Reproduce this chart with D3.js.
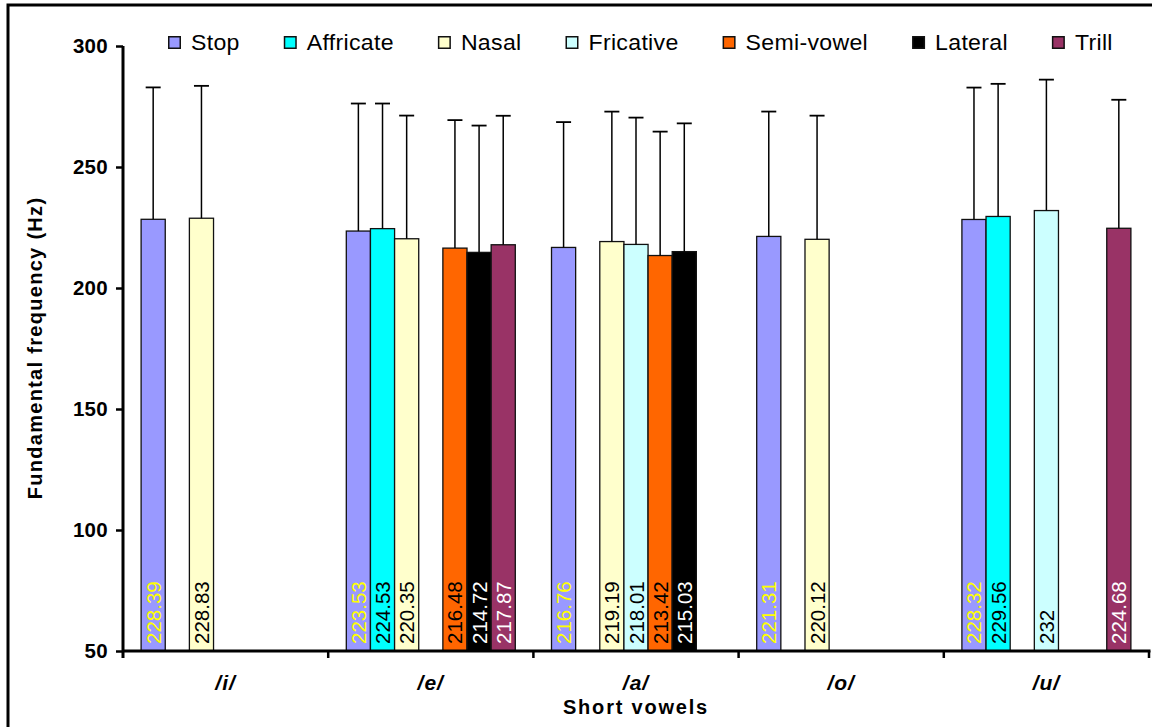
<!DOCTYPE html>
<html>
<head>
<meta charset="utf-8">
<script src="https://cdn.jsdelivr.net/npm/d3@7"></script>
<style>
  html, body { margin: 0; padding: 0; background: #fff; }
  svg { display: block; font-family: "Liberation Sans", Arial, sans-serif; }
</style>
</head>
<body>
<svg id="chart" width="1152" height="727"></svg>
<script>
// Mean fundamental frequency (Hz) of short vowels by consonant context, with upper SD bars
const vowels = ["/i/", "/e/", "/a/", "/o/", "/u/"];
const series = ["Stop", "Affricate", "Nasal", "Fricative", "Semi-vowel", "Lateral", "Trill"];

const stopMean      = [228.39, 223.53, 216.76, 221.31, 228.32];
const affricateMean = [null, 224.53, null, null, 229.56];
const nasalMean     = [228.83, 220.35, 219.19, 220.12, null];
const fricativeMean = [null, null, 218.01, null, 232];
const semivowelMean = [null, 216.48, 213.42, null, null];
const lateralMean   = [null, 214.72, 215.03, null, null];
const trillMean     = [null, 217.87, null, null, 224.68];

const stopSD      = [54.5, 52.7, 51.8, 51.6, 54.5];
const affricateSD = [null, 51.7, null, null, 54.8];
const nasalSD     = [54.7, 50.9, 53.7, 51.1, null];
const fricativeSD = [null, null, 52.4, null, 54.1];
const semivowelSD = [null, 52.9, 51.2, null, null];
const lateralSD   = [null, 52.4, 53.0, null, null];
const trillSD     = [null, 53.3, null, null, 53.1];

const yTicks = [50, 100, 150, 200, 250, 300];

const fills = ["#9999FF", "#00FFFF", "#FFFFCC", "#CCFFFF", "#FF6600", "#000000", "#993366"];
const labelColors = ["#FFFF00", "#000000", "#000000", "#000000", "#000000", "#FFFFFF", "#FFFFFF"];

const means = [stopMean, affricateMean, nasalMean, fricativeMean, semivowelMean, lateralMean, trillMean];
const sds = [stopSD, affricateSD, nasalSD, fricativeSD, semivowelSD, lateralSD, trillSD];

const rows = [];
series.forEach((s, si) => {
  vowels.forEach((v, vi) => {
    if (means[si][vi] != null) {
      rows.push({ series: s, si, vowel: v, mean: means[si][vi], sd: sds[si][vi] });
    }
  });
});

const svg = d3.select("#chart");

// outer frame
svg.append("rect").attr("x", 8).attr("y", 5).attr("width", 1200).attr("height", 800)
  .attr("fill", "none").attr("stroke", "#000").attr("stroke-width", 3);

const plotLeft = 123, plotRight = 1149, plotTop = 46, plotBottom = 651;

const x = d3.scaleBand().domain(vowels).range([plotLeft, plotRight]).paddingInner(0).paddingOuter(0);
const xs = d3.scaleBand().domain(series).range([0, x.bandwidth()]).paddingInner(0).paddingOuter(0.75);
const y = d3.scaleLinear().domain([50, 300]).range([plotBottom, plotTop]);

// bars
const g = svg.append("g");
g.selectAll("rect.bar").data(rows).join("rect")
  .attr("class", "bar")
  .attr("x", d => x(d.vowel) + xs(d.series))
  .attr("y", d => y(d.mean))
  .attr("width", xs.bandwidth())
  .attr("height", d => y(50) - y(d.mean))
  .attr("fill", d => fills[d.si])
  .attr("stroke", "#111")
  .attr("stroke-width", 1.3);

// upper error bars
const capW = 15;
const eb = g.selectAll("g.err").data(rows).join("g").attr("class", "err");
eb.append("line")
  .attr("x1", d => x(d.vowel) + xs(d.series) + xs.bandwidth() / 2)
  .attr("x2", d => x(d.vowel) + xs(d.series) + xs.bandwidth() / 2)
  .attr("y1", d => y(d.mean))
  .attr("y2", d => y(d.mean + d.sd))
  .attr("stroke", "#000").attr("stroke-width", 1.5);
eb.append("line")
  .attr("x1", d => x(d.vowel) + xs(d.series) + xs.bandwidth() / 2 - capW / 2)
  .attr("x2", d => x(d.vowel) + xs(d.series) + xs.bandwidth() / 2 + capW / 2)
  .attr("y1", d => y(d.mean + d.sd))
  .attr("y2", d => y(d.mean + d.sd))
  .attr("stroke", "#000").attr("stroke-width", 1.8);

// value labels, rotated inside bars
g.selectAll("text.val").data(rows).join("text")
  .attr("class", "val")
  .attr("transform", d => `translate(${x(d.vowel) + xs(d.series) + xs.bandwidth() / 2 + 7.5},${plotBottom - 7}) rotate(-90)`)
  .attr("font-size", 20.5)
  .attr("fill", d => labelColors[d.si])
  .text(d => d.mean);

// y axis
const yAxis = d3.axisLeft(y).tickValues(yTicks).tickSize(7).tickSizeOuter(0).tickPadding(8);
const ya = svg.append("g").attr("transform", `translate(${plotLeft},0)`).call(yAxis);
ya.select(".domain").attr("stroke", "#000").attr("stroke-width", 3).attr("d", `M0,${plotTop}V${plotBottom + 7}`);
ya.selectAll(".tick line").attr("stroke", "#000").attr("stroke-width", 2.5);
ya.selectAll(".tick text").attr("font-size", 20.5).attr("font-weight", "bold").attr("fill", "#000")
  .attr("letter-spacing", 0.3)
  .attr("font-family", "'Liberation Sans', Arial, sans-serif");

// x axis with ticks on category boundaries
const xa = svg.append("g");
xa.append("line").attr("x1", plotLeft).attr("x2", plotRight + 1.5).attr("y1", plotBottom).attr("y2", plotBottom)
  .attr("stroke", "#000").attr("stroke-width", 3);
const bounds = vowels.map(v => x(v)).concat([x(vowels[vowels.length - 1]) + x.bandwidth()]);
xa.selectAll("line.tk").data(bounds.slice(1)).join("line").attr("class", "tk")
  .attr("x1", d => d).attr("x2", d => d).attr("y1", plotBottom).attr("y2", plotBottom + 7)
  .attr("stroke", "#000").attr("stroke-width", 2.5);
xa.selectAll("text").data(vowels).join("text")
  .attr("x", d => x(d) + x.bandwidth() / 2)
  .attr("y", 690)
  .attr("text-anchor", "middle")
  .attr("font-size", 21).attr("font-weight", "bold").attr("font-style", "italic")
  .attr("letter-spacing", 1)
  .text(d => d);

// axis titles
svg.append("text").attr("x", (plotLeft + plotRight) / 2).attr("y", 714).attr("text-anchor", "middle")
  .attr("font-size", 20).attr("font-weight", "bold").attr("letter-spacing", 1.8).text("Short vowels");
svg.append("text").attr("transform", "translate(42,348) rotate(-90)").attr("text-anchor", "middle")
  .attr("font-size", 20).attr("font-weight", "bold").attr("letter-spacing", 1.3)
  .text("Fundamental frequency (Hz)");

// legend
const lg = svg.append("g");
let lx = 168;
series.forEach((s, i) => {
  lg.append("rect").attr("x", lx + 0.75).attr("y", 36.75).attr("width", 11.5).attr("height", 11.5)
    .attr("fill", fills[i]).attr("stroke", "#111").attr("stroke-width", 1.5);
  const tx = lx + 23;
  const t = lg.append("text").attr("transform", `translate(${tx},50) scale(1.05,1)`)
    .attr("font-size", 22).attr("letter-spacing", 0.3).text(s);
  lx = tx + t.node().getComputedTextLength() * 1.05 + 44;
});
</script>
</body>
</html>
